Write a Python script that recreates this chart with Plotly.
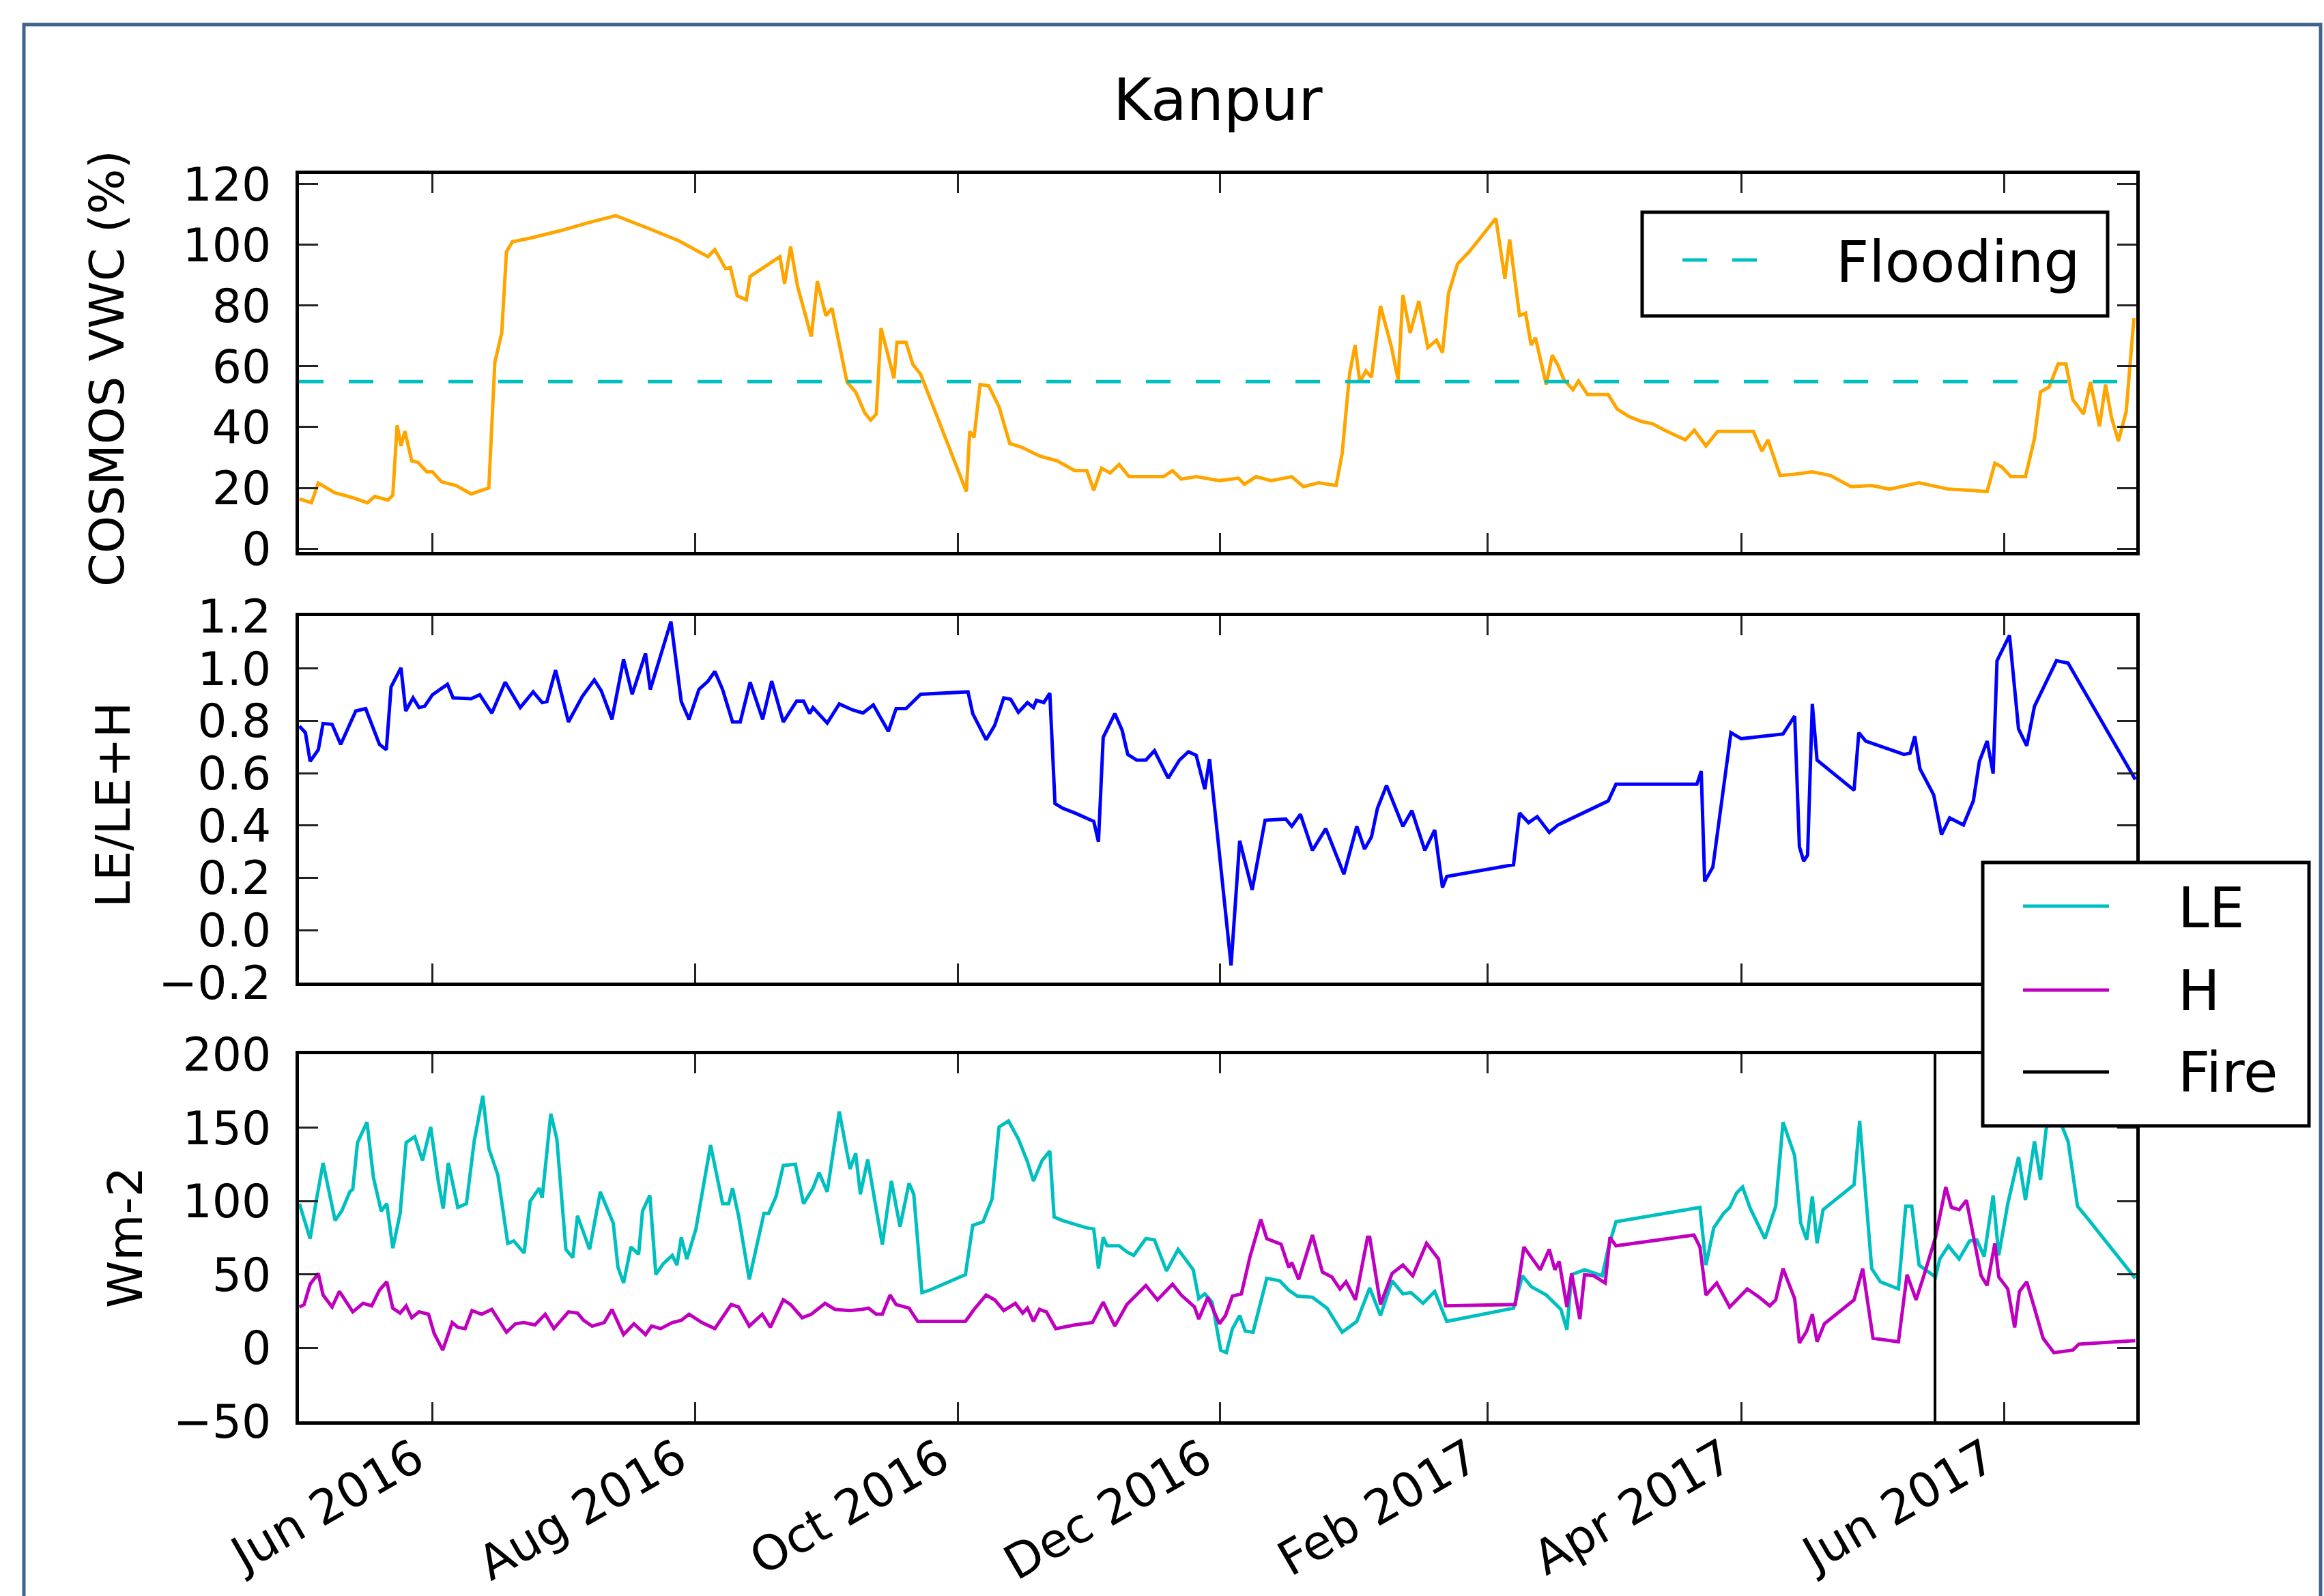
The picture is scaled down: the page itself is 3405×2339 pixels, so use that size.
import pandas as pd
import plotly.graph_objects as go
from plotly.subplots import make_subplots

# ---------------- data (day = days since start_date, value) ----------------
start_date = "2016-05-01"
x_end = "2017-07-01 18:00"
tick_labels_start = "2016-06-01"
flood_level = 55
fire_date = "2017-05-16"

vwc_points = [
    (0.1, 16.4), (2.9, 15.1), (4.5, 21.6), (8.3, 18.4), (12.5, 16.8), (15.9, 15.1), (17.6, 17.2),
    (20.7, 16.0), (21.8, 17.6), (22.8, 40.6), (23.7, 33.8), (24.6, 38.7), (26.2, 28.9), (27.6, 28.5),
    (29.7, 25.3), (31.0, 25.3), (33.1, 22.0), (36.5, 20.8), (40.0, 18.0), (42.7, 19.2), (44.1, 20.0),
    (45.5, 61.3), (47.1, 71.0), (48.2, 97.7), (49.6, 101.0), (53.7, 102.2), (60.6, 104.6),
    (67.5, 107.4), (73.6, 109.6), (81.2, 105.4), (88.1, 101.4), (95.0, 96.1), (96.6, 98.4),
    (99.1, 92.1), (100.2, 92.5), (101.8, 83.2), (103.9, 81.9), (104.8, 89.6), (111.7, 96.1),
    (112.8, 87.2), (114.2, 99.4), (115.8, 86.4), (119.0, 69.8), (120.4, 88.0), (122.4, 76.7),
    (123.8, 79.1), (127.3, 54.8), (129.3, 51.6), (131.4, 44.7), (132.8, 42.3), (134.1, 44.3),
    (135.2, 72.6), (136.6, 65.3), (138.2, 56.1), (138.9, 67.9), (141.0, 67.9), (142.6, 60.6),
    (144.4, 57.4), (155.0, 18.8), (155.8, 38.6), (156.8, 36.6), (158.2, 54.0), (160.2, 53.6),
    (162.6, 46.7), (165.1, 34.6), (167.8, 33.4), (172.0, 30.5), (176.1, 28.9), (180.2, 25.7),
    (183.0, 25.7), (184.6, 19.2), (186.4, 26.5), (188.4, 24.9), (190.5, 27.7), (192.8, 23.7),
    (195.3, 23.7), (200.8, 23.7), (202.9, 25.7), (204.9, 22.9), (208.4, 23.7), (213.8, 22.4),
    (218.2, 23.2), (219.6, 21.2), (222.3, 23.7), (225.8, 22.4), (230.6, 23.7), (233.3, 20.4),
    (236.8, 21.7), (240.9, 20.8), (242.3, 31.3), (244.0, 57.3), (245.3, 67.0), (246.4, 54.8),
    (247.8, 58.5), (249.1, 56.4), (251.2, 79.9), (253.7, 66.6), (255.3, 55.6), (256.4, 83.5),
    (258.1, 71.0), (260.1, 81.5), (262.2, 66.2), (264.2, 68.6), (265.6, 64.5), (267.0, 84.0),
    (269.1, 93.7), (271.8, 97.7), (278.0, 108.7), (280.1, 88.8), (281.2, 101.8), (283.5, 76.7),
    (284.9, 77.5), (286.2, 67.0), (287.2, 69.4), (289.7, 54.0), (291.1, 63.7), (292.4, 60.4),
    (293.8, 55.6), (295.9, 52.3), (297.2, 55.2), (299.3, 50.7), (304.1, 50.7), (306.2, 45.9),
    (308.9, 43.5), (311.7, 41.9), (314.4, 41.1), (317.2, 39.0), (322.0, 35.8), (324.1, 39.0),
    (326.8, 33.8), (329.5, 38.6), (337.8, 38.6), (339.8, 32.1), (341.2, 35.8), (344.0, 24.1),
    (347.4, 24.5), (351.5, 25.3), (355.7, 24.1), (360.5, 20.4), (365.3, 20.8), (369.4, 19.6),
    (376.3, 21.7), (383.1, 19.6), (388.0, 19.2), (392.1, 18.8), (393.9, 28.1), (395.5, 26.9),
    (397.6, 23.7), (401.0, 23.7), (403.1, 36.2), (404.5, 51.6), (406.5, 53.2), (408.6, 60.8),
    (410.4, 60.8), (412.0, 49.1), (414.5, 44.3), (416.1, 54.8), (418.2, 40.3), (419.6, 54.0),
    (421.0, 43.1), (422.6, 35.4), (424.4, 45.1), (426.2, 75.9),
]

ef_points = [
    (0.1, 0.78), (1.5, 0.755), (2.6, 0.645), (4.5, 0.69), (5.6, 0.79), (7.7, 0.787), (9.7, 0.71),
    (13.2, 0.838), (15.5, 0.847), (18.7, 0.71), (20.3, 0.69), (21.4, 0.93), (23.7, 1.003),
    (24.8, 0.838), (26.5, 0.888), (27.9, 0.851), (29.2, 0.856), (31.0, 0.90), (34.5, 0.94),
    (35.8, 0.888), (40.0, 0.885), (42.0, 0.90), (44.8, 0.83), (47.9, 0.948), (51.4, 0.851),
    (54.4, 0.911), (56.5, 0.87), (57.6, 0.874), (59.6, 0.994), (62.6, 0.796), (65.8, 0.893),
    (68.6, 0.957), (70.2, 0.916), (72.7, 0.806), (75.4, 1.035), (77.4, 0.902), (80.5, 1.058),
    (81.6, 0.92), (86.4, 1.18), (88.8, 0.874), (90.6, 0.806), (92.9, 0.92), (95.0, 0.952),
    (96.6, 0.989), (98.4, 0.92), (100.7, 0.796), (102.5, 0.796), (104.8, 0.948), (107.7, 0.806),
    (109.8, 0.952), (112.5, 0.796), (115.6, 0.876), (117.2, 0.876), (118.6, 0.828), (119.4, 0.851),
    (122.7, 0.792), (125.5, 0.865), (128.6, 0.842), (131.0, 0.83), (133.4, 0.861), (136.9, 0.76),
    (138.7, 0.847), (141.0, 0.847), (144.4, 0.902), (155.4, 0.911), (156.5, 0.828), (159.6, 0.728),
    (161.6, 0.783), (163.7, 0.888), (165.3, 0.883), (167.1, 0.833), (169.2, 0.87), (170.6, 0.851),
    (171.3, 0.879), (173.0, 0.87), (174.4, 0.906), (175.6, 0.484), (177.4, 0.466), (180.2, 0.448),
    (182.9, 0.429), (184.6, 0.416), (185.7, 0.338), (186.8, 0.737), (189.5, 0.828), (191.2, 0.764),
    (192.5, 0.672), (194.6, 0.65), (196.7, 0.65), (198.7, 0.686), (201.9, 0.581), (204.5, 0.65),
    (206.6, 0.682), (208.4, 0.668), (210.4, 0.539), (211.5, 0.654), (216.5, -0.135), (218.5, 0.342),
    (221.4, 0.154), (224.4, 0.42), (229.2, 0.425), (230.6, 0.397), (232.6, 0.443), (235.4, 0.305),
    (238.5, 0.388), (242.7, 0.214), (245.7, 0.397), (247.5, 0.31), (249.1, 0.356), (250.5, 0.466),
    (252.6, 0.553), (256.4, 0.397), (258.5, 0.457), (261.5, 0.305), (263.8, 0.383), (265.6, 0.163),
    (266.6, 0.205), (282.1, 0.25), (283.5, 0.448), (285.6, 0.411), (287.6, 0.434), (290.4, 0.374),
    (292.4, 0.402), (304.1, 0.494), (305.9, 0.558), (324.7, 0.558), (325.7, 0.608), (326.5, 0.186),
    (328.4, 0.241), (332.6, 0.755), (335.0, 0.732), (344.7, 0.75), (347.4, 0.819), (348.5, 0.319),
    (349.5, 0.264), (350.4, 0.287), (351.5, 0.865), (352.6, 0.65), (361.2, 0.535), (362.3, 0.755),
    (363.9, 0.723), (372.8, 0.672), (374.2, 0.677), (375.3, 0.741), (376.5, 0.617), (379.7, 0.517),
    (381.5, 0.365), (383.4, 0.429), (386.6, 0.402), (388.9, 0.494), (390.3, 0.645), (392.1, 0.723),
    (393.5, 0.599), (394.4, 1.03), (397.3, 1.127), (399.4, 0.769), (401.3, 0.705), (403.1, 0.856),
    (408.2, 1.03), (410.9, 1.021), (426.5, 0.576),
]

le_points = [
    (0.1, 98.2), (2.6, 74.4), (3.9, 98.2), (5.6, 126.0), (8.4, 86.7), (10.0, 93.6), (11.8, 106.3),
    (12.5, 108.0), (13.6, 139.9), (15.8, 153.8), (17.3, 116.1), (19.1, 93.2), (20.4, 98.2),
    (21.8, 67.9), (23.5, 91.6), (24.9, 139.9), (26.9, 143.9), (28.7, 127.6), (30.6, 150.5),
    (32.4, 112.9), (33.5, 94.9), (34.7, 126.0), (36.9, 95.7), (38.9, 98.2), (40.7, 140.7),
    (42.7, 171.8), (44.1, 135.8), (46.2, 117.8), (48.5, 71.2), (49.9, 72.8), (52.3, 64.6),
    (53.7, 99.8), (55.8, 108.8), (56.5, 102.2), (58.5, 159.5), (59.9, 142.3), (62.0, 67.1),
    (63.6, 61.4), (64.7, 90.0), (67.5, 67.1), (70.0, 106.3), (73.0, 85.0), (74.1, 54.8),
    (75.4, 44.2), (77.1, 68.7), (78.9, 63.8), (79.8, 93.2), (81.5, 103.9), (82.9, 49.9),
    (84.6, 57.3), (86.7, 63.0), (87.8, 56.4), (88.8, 75.3), (90.1, 60.5), (92.2, 81.0),
    (95.6, 138.2), (98.4, 98.2), (99.8, 98.2), (100.7, 108.8), (102.1, 90.0), (104.6, 46.6),
    (108.0, 91.6), (109.1, 91.6), (110.8, 103.1), (112.5, 124.3), (115.3, 125.1), (117.2, 98.2),
    (119.4, 108.8), (120.8, 119.4), (122.7, 106.3), (125.5, 161.1), (128.0, 121.9), (129.3, 132.5),
    (130.4, 104.7), (132.1, 128.4), (135.5, 70.3), (137.6, 113.7), (139.6, 82.6), (141.7, 112.1),
    (142.8, 104.7), (144.7, 37.6), (146.5, 39.3), (154.8, 49.9), (156.5, 83.4), (158.9, 85.9),
    (161.0, 101.4), (162.6, 150.5), (164.8, 154.6), (167.1, 142.3), (169.2, 126.8), (170.6, 113.7),
    (172.6, 127.6), (174.4, 134.1), (175.4, 89.2), (177.4, 86.7), (182.9, 81.8), (184.6, 81.0),
    (185.7, 54.0), (186.8, 75.3), (187.7, 69.5), (190.5, 69.5), (192.3, 65.4), (193.9, 63.0),
    (196.7, 74.4), (198.7, 73.6), (201.5, 52.4), (204.2, 67.1), (207.7, 53.2), (209.0, 33.5),
    (210.4, 36.8), (212.1, 31.1), (214.1, -1.6), (215.4, -3.3), (216.8, 13.0), (218.5, 22.0),
    (219.8, 11.4), (221.6, 10.6), (224.8, 47.4), (227.8, 45.7), (229.9, 39.3), (231.9, 35.2),
    (235.4, 34.4), (238.8, 27.0), (242.3, 10.6), (245.7, 18.0), (248.7, 40.9), (251.2, 22.0),
    (253.9, 45.7), (256.4, 36.8), (258.3, 37.6), (261.1, 30.3), (263.8, 38.4), (266.6, 18.0),
    (282.1, 27.0), (284.2, 49.1), (286.2, 41.7), (289.7, 36.0), (293.1, 26.2), (294.5, 12.3),
    (295.6, 49.9), (298.6, 53.2), (302.7, 49.1), (304.1, 67.9), (305.9, 85.9), (325.4, 95.7),
    (326.8, 56.4), (328.6, 81.8), (330.9, 91.6), (332.3, 95.7), (333.9, 105.5), (335.3, 109.6),
    (337.1, 94.9), (340.5, 74.4), (343.0, 96.5), (344.7, 153.8), (347.4, 130.9), (348.8, 85.1),
    (350.2, 73.6), (351.5, 103.1), (352.6, 71.2), (354.0, 94.1), (361.2, 111.2), (362.5, 154.6),
    (365.3, 54.0), (367.3, 45.0), (371.5, 40.1), (373.2, 96.5), (374.6, 96.5), (376.3, 56.4),
    (378.3, 52.4), (380.1, 48.3), (381.1, 60.5), (383.1, 69.5), (385.6, 60.5), (388.0, 72.8),
    (389.7, 73.6), (391.4, 62.2), (393.5, 103.9), (394.8, 63.0), (396.9, 98.2), (399.4, 130.0),
    (401.0, 100.6), (403.1, 140.7), (404.5, 114.5), (405.8, 148.9), (407.6, 165.0), (410.9, 140.7),
    (413.1, 96.5), (415.4, 88.3), (426.5, 47.4),
]

h_points = [
    (0.1, 27.8), (1.2, 29.5), (2.6, 43.4), (4.5, 50.7), (5.6, 36.0), (7.7, 27.8), (9.4, 38.5),
    (12.5, 24.5), (14.9, 30.3), (16.9, 28.6), (18.7, 39.3), (20.4, 45.0), (21.8, 27.0), (23.5, 23.7),
    (24.9, 28.6), (26.2, 20.5), (27.9, 24.5), (30.1, 22.9), (31.4, 9.8), (33.4, -1.6), (35.6, 17.2),
    (36.9, 14.0), (38.6, 13.1), (40.2, 25.4), (42.4, 22.9), (44.8, 26.2), (48.2, 10.6), (50.3, 16.4),
    (52.3, 17.2), (54.8, 15.6), (57.2, 22.9), (59.2, 13.1), (62.6, 24.5), (64.7, 23.7), (66.1, 18.8),
    (68.1, 14.8), (70.9, 17.2), (72.7, 26.2), (75.4, 9.0), (77.8, 16.4), (80.5, 9.0), (81.9, 14.8),
    (84.0, 13.1), (86.7, 17.2), (88.8, 18.8), (90.6, 22.9), (93.6, 17.2), (96.6, 13.1), (100.4, 29.5),
    (102.1, 27.8), (104.6, 14.8), (107.6, 22.9), (109.5, 14.0), (112.5, 32.7), (114.2, 29.5),
    (116.9, 20.5), (119.0, 22.9), (122.2, 30.3), (124.5, 26.2), (128.0, 25.4), (130.7, 26.2),
    (132.3, 27.0), (134.1, 22.9), (135.5, 22.9), (137.3, 36.0), (138.7, 29.5), (141.7, 27.0),
    (143.7, 18.0), (154.8, 18.0), (156.8, 26.2), (159.6, 36.0), (161.6, 32.7), (163.7, 25.4),
    (166.4, 30.3), (168.1, 23.7), (169.2, 27.0), (170.6, 18.0), (172.0, 26.2), (173.6, 24.5),
    (175.8, 13.1), (180.2, 15.6), (184.3, 17.2), (186.8, 31.1), (189.5, 14.8), (192.3, 29.5),
    (193.9, 34.4), (196.7, 42.5), (199.4, 32.7), (202.9, 43.4), (204.9, 36.0), (208.0, 27.8),
    (209.0, 19.6), (211.1, 34.4), (213.8, 16.4), (215.2, 22.0), (216.8, 35.2), (218.9, 36.8),
    (220.9, 62.2), (223.4, 87.5), (224.8, 74.4), (228.1, 70.6), (229.9, 54.8), (230.6, 58.1),
    (232.2, 46.6), (235.4, 76.9), (237.7, 51.6), (239.9, 48.3), (241.8, 40.1), (243.2, 45.0),
    (245.4, 32.7), (248.2, 75.3), (248.7, 75.3), (251.2, 29.5), (253.9, 50.7), (256.4, 56.4),
    (258.7, 49.1), (261.9, 71.2), (264.7, 60.5), (266.3, 28.6), (282.5, 29.5), (284.5, 68.7),
    (288.3, 53.2), (290.4, 67.1), (291.7, 53.2), (292.7, 58.9), (294.5, 27.8), (295.6, 50.7),
    (297.5, 19.6), (298.6, 49.9), (300.7, 49.1), (303.4, 44.2), (304.5, 75.3), (305.9, 69.5),
    (324.0, 76.9), (325.4, 68.7), (326.8, 36.0), (329.3, 44.2), (332.3, 27.8), (336.4, 40.1),
    (339.2, 34.4), (341.6, 28.6), (343.0, 32.7), (344.7, 54.0), (347.4, 33.5), (348.5, 3.3),
    (350.2, 11.4), (351.5, 22.9), (352.6, 4.1), (354.3, 16.4), (361.2, 32.7), (363.2, 54.0),
    (365.6, 6.5), (371.5, 4.1), (373.5, 49.9), (375.6, 32.7), (377.4, 49.1), (380.1, 75.3),
    (382.5, 109.6), (383.8, 95.7), (385.6, 94.1), (387.3, 100.6), (390.7, 49.1), (392.1, 42.5),
    (393.9, 71.2), (394.8, 48.3), (396.9, 40.1), (398.5, 13.9), (399.6, 38.4), (401.3, 45.0),
    (403.1, 27.0), (405.1, 6.5), (407.6, -3.3), (412.0, -1.6), (413.4, 2.5), (426.5, 4.9),
]

series_names = ["LE", "H", "Fire"]
title_text = "Kanpur"
ylabels = ["COSMOS VWC (%)", "LE/LE+H", "Wm-2"]


def unpack(points):
    days = [p[0] for p in points]
    vals = [p[1] for p in points]
    dates = pd.Timestamp(start_date) + pd.to_timedelta(days, unit="D")
    return dates, vals


# ---------------- styling ----------------
W, H = 3405, 2339
FONT = "DejaVu Sans"
C_ORANGE = "#FFA500"
C_CYAN = "#00BFBF"
C_MAG = "#BF00BF"
C_BLUE = "#0000FF"
TICK_FS = 68
LW = 5


def px(x):
    return x / W


def py(y):
    return 1 - y / H


fig = make_subplots(rows=3, cols=1, shared_xaxes=True)

d, v = unpack(vwc_points)
fig.add_trace(go.Scatter(x=d, y=v, mode="lines", line=dict(color=C_ORANGE, width=LW),
                         showlegend=False), row=1, col=1)
fig.add_hline(y=flood_level, line=dict(color=C_CYAN, width=5, dash="36px,37px"), row=1, col=1)

d, v = unpack(ef_points)
fig.add_trace(go.Scatter(x=d, y=v, mode="lines", line=dict(color=C_BLUE, width=LW),
                         showlegend=False), row=2, col=1)

d, v = unpack(le_points)
fig.add_trace(go.Scatter(x=d, y=v, mode="lines", name="LE", line=dict(color=C_CYAN, width=LW),
                         showlegend=False), row=3, col=1)
d, v = unpack(h_points)
fig.add_trace(go.Scatter(x=d, y=v, mode="lines", name="H", line=dict(color=C_MAG, width=LW),
                         showlegend=False), row=3, col=1)
fig.add_vline(x=fire_date, line=dict(color="black", width=4), row=3, col=1)

axis_common = dict(
    showline=True, linewidth=5, linecolor="black", mirror="allticks",
    ticks="inside", ticklen=28, tickwidth=3, tickcolor="#222222",
    showgrid=False, zeroline=False,
    tickfont=dict(family=FONT, size=TICK_FS, color="black"),
)

x_domain = [px(438), px(3130)]
y_domains = [[py(809), py(255)], [py(1440), py(903)], [py(2083), py(1545)]]

for i in range(3):
    sfx = "" if i == 0 else str(i + 1)
    fig.layout["xaxis" + sfx].update(
        domain=x_domain, type="date", range=[start_date, x_end],
        tickmode="linear", tick0=tick_labels_start, dtick="M2", tickformat="%b %Y",
        tickangle=-30, showticklabels=(i == 2), ticklabelstandoff=-18, ticklabelshift=-25,
        automargin=False, **axis_common)
    fig.layout["yaxis" + sfx].update(domain=y_domains[i], ticklabelstandoff=22,
                                     automargin=False, **axis_common)

fig.layout.xaxis3.tickfont.size = 70
fig.layout.yaxis.update(range=[-1.1, 123.3], tickmode="linear", tick0=0, dtick=20)
fig.layout.yaxis2.update(range=[-0.2005, 1.2005], tickmode="linear", tick0=-0.2, dtick=0.2,
                         tickformat=".1f")
fig.layout.yaxis3.update(range=[-50.1, 200.1], tickmode="linear", tick0=-50, dtick=50)

# ---------------- frame, legends, text ----------------
shapes = list(fig.layout.shapes)
shapes.append(dict(type="rect", xref="paper", yref="paper", x0=px(35), x1=px(3400),
                   y0=-0.05, y1=py(36), line=dict(color="#41648f", width=5),
                   fillcolor="rgba(0,0,0,0)", layer="above"))
# legend 1 (Flooding)
shapes.append(dict(type="rect", xref="paper", yref="paper", x0=px(2406), x1=px(3088),
                   y0=py(463), y1=py(311), line=dict(color="black", width=5),
                   fillcolor="white", layer="above"))
shapes.append(dict(type="line", xref="paper", yref="paper", x0=px(2465), x1=px(2577),
                   y0=py(381), y1=py(381), line=dict(color=C_CYAN, width=5, dash="36px,37px"),
                   layer="above"))
# legend 2 (LE / H / Fire)
shapes.append(dict(type="rect", xref="paper", yref="paper", x0=px(2905), x1=px(3383),
                   y0=py(1650), y1=py(1264), line=dict(color="black", width=5),
                   fillcolor="white", layer="above"))
leg2_y = [1328, 1451, 1571]
leg2_c = [C_CYAN, C_MAG, "black"]
for yy, cc in zip(leg2_y, leg2_c):
    shapes.append(dict(type="line", xref="paper", yref="paper", x0=px(2964), x1=px(3090),
                       y0=py(yy), y1=py(yy), line=dict(color=cc, width=5), layer="above"))
fig.update_layout(shapes=shapes)

ann = []
ann.append(dict(text=title_text, x=px(1784), y=py(146), xref="paper", yref="paper",
                xanchor="center", yanchor="middle", showarrow=False,
                font=dict(family=FONT, size=86, color="black")))
ann.append(dict(text="Flooding", x=px(2688), y=py(384), xref="paper", yref="paper",
                xanchor="left", yanchor="middle", showarrow=False,
                font=dict(family=FONT, size=84, color="black")))
for name, yy in zip(series_names, [1330, 1451, 1571]):
    ann.append(dict(text=name, x=px(3189), y=py(yy), xref="paper", yref="paper",
                    xanchor="left", yanchor="middle", showarrow=False,
                    font=dict(family=FONT, size=82, color="black")))
for lab, xx, yy in zip(ylabels, [157, 166, 184], [540, 1180, 1814]):
    ann.append(dict(text=lab, x=px(xx), y=py(yy), xref="paper", yref="paper",
                    xanchor="center", yanchor="middle", textangle=-90, showarrow=False,
                    font=dict(family=FONT, size=70, color="black")))
fig.update_layout(annotations=ann)

fig.update_layout(width=W, height=H, margin=dict(l=0, r=0, t=0, b=0), autosize=False,
                  paper_bgcolor="white", plot_bgcolor="white", showlegend=False,
                  font=dict(family=FONT, color="black"))

fig.write_html("out.html", config={"displayModeBar": False},
               post_script="document.body.style.margin='0px';document.body.style.overflow='hidden';")
